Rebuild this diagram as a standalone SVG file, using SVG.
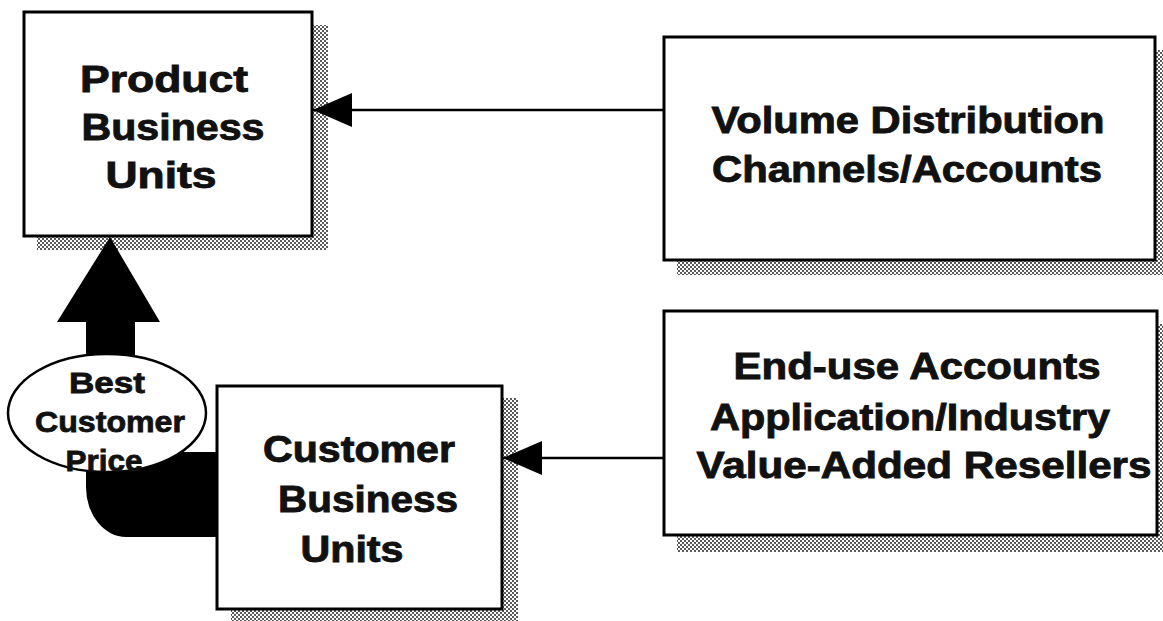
<svg xmlns="http://www.w3.org/2000/svg" width="1163" height="621" viewBox="0 0 1163 621">
  <style>
    .box { fill: #ffffff; stroke: #000000; stroke-width: 3; }
    .shadow { fill: url(#halftone); }
    .label { font-family: "Liberation Sans", Arial, Helvetica, sans-serif; font-weight: bold; font-size: 37px; fill: #111111; stroke: #111111; stroke-width: 0.9; text-anchor: middle; }
    .small { font-size: 29.5px; stroke-width: 0.8; }
    .link { stroke: #000000; stroke-width: 2.5; fill: none; }
  </style>
  <defs>
    <!-- halftone dot screen used for the drop shadows -->
    <pattern id="halftone" width="4" height="4" patternUnits="userSpaceOnUse">
      <rect width="4" height="4" fill="#ffffff"/>
      <rect x="0" y="0" width="2" height="2" fill="#5a5a5a"/>
      <rect x="2" y="2" width="2" height="2" fill="#5a5a5a"/>
    </pattern>
    <marker id="head" viewBox="0 -17 39 34" refX="39" refY="0" markerWidth="39" markerHeight="34" markerUnits="userSpaceOnUse" orient="auto">
      <path d="M0,-17 L39,0 L0,17 Z" fill="#000000"/>
    </marker>
  </defs>

  <rect width="1163" height="621" fill="#ffffff"/>

  <g id="product-units">
    <rect class="shadow" x="37" y="25" width="291" height="225"/>
    <rect class="box" x="24" y="12" width="288" height="224"/>
    <text class="label" x="164" y="92" textLength="168" lengthAdjust="spacingAndGlyphs">Product</text>
    <text class="label" x="173" y="140" textLength="183" lengthAdjust="spacingAndGlyphs">Business</text>
    <text class="label" x="161" y="188" textLength="111" lengthAdjust="spacingAndGlyphs">Units</text>
  </g>

  <g id="volume-channels">
    <rect class="shadow" x="677" y="50" width="491" height="225"/>
    <rect class="box" x="664" y="37" width="491" height="223"/>
    <text class="label" x="908" y="133" textLength="393" lengthAdjust="spacingAndGlyphs">Volume Distribution</text>
    <text class="label" x="907" y="182" textLength="390" lengthAdjust="spacingAndGlyphs">Channels/Accounts</text>
  </g>

  <g id="customer-units">
    <rect class="shadow" x="231" y="398" width="287" height="223"/>
    <rect class="box" x="217" y="386" width="285" height="223"/>
    <text class="label" x="359" y="462" textLength="192" lengthAdjust="spacingAndGlyphs">Customer</text>
    <text class="label" x="368" y="512" textLength="180" lengthAdjust="spacingAndGlyphs">Business</text>
    <text class="label" x="352" y="562" textLength="103" lengthAdjust="spacingAndGlyphs">Units</text>
  </g>

  <g id="end-use-accounts">
    <rect class="shadow" x="677" y="324" width="491" height="228"/>
    <rect class="box" x="664" y="311" width="493" height="224"/>
    <text class="label" x="917" y="379" textLength="367" lengthAdjust="spacingAndGlyphs">End-use Accounts</text>
    <text class="label" x="910" y="430" textLength="400" lengthAdjust="spacingAndGlyphs">Application/Industry</text>
    <text class="label" x="924" y="478" textLength="455" lengthAdjust="spacingAndGlyphs">Value-Added Resellers</text>
  </g>

  <!-- connectors, drawn over the box shadows -->
  <g id="connectors">
    <line class="link" x1="663" y1="110" x2="313" y2="110" marker-end="url(#head)"/>
    <line class="link" x1="663" y1="458" x2="503" y2="458" marker-end="url(#head)"/>
    <!-- thick bent arrow from customer units up to product units -->
    <path d="M110,237 L160,322 L135,322 L135,452 L217,452 L217,537 L126,537 A40,50 0 0 1 86,487 L86,322 L57,322 Z" fill="#000000"/>
    <g id="price-label">
      <ellipse cx="107" cy="413" rx="99" ry="59" fill="#ffffff" stroke="#000000" stroke-width="2.5"/>
      <text class="label small" x="107" y="393" textLength="76" lengthAdjust="spacingAndGlyphs">Best</text>
      <text class="label small" x="110" y="432" textLength="150" lengthAdjust="spacingAndGlyphs">Customer</text>
      <text class="label small" x="104" y="471" textLength="77" lengthAdjust="spacingAndGlyphs">Price</text>
    </g>
  </g>
</svg>
